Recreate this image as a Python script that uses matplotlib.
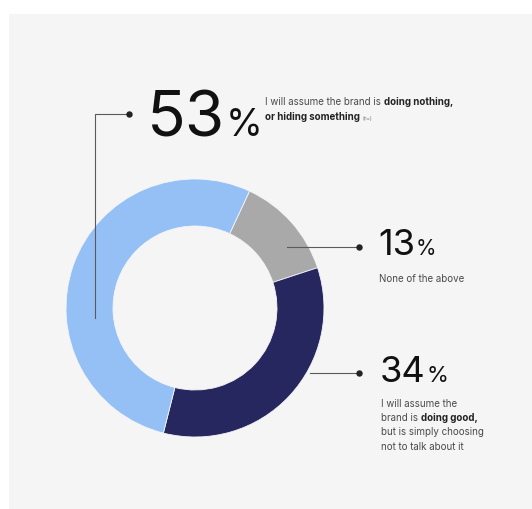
import matplotlib
matplotlib.use("Agg")
import matplotlib.pyplot as plt
from matplotlib.patches import Rectangle

plt.rcParams['font.family'] = ['Inter', 'DejaVu Sans']

W, H = 532, 509

# data
shares = [13, 34, 53]
share_colors = ['#a9a9a9', '#27275f', '#94c0f6']
big_labels = ['13', '34', '53']
desc_13 = [[("None of the above", 'normal')]]
desc_34 = [[("I will assume the", 'normal')],
           [("brand is", 'normal'), ("doing good,", 'bold')],
           [("but is simply choosing", 'normal')],
           [("not to talk about it", 'normal')]]
desc_53 = [[("I will assume the brand is", 'normal'), ("doing nothing,", 'bold')],
           [("or hiding something", 'bold'), ("(n=)", 'small')]]


def Y(y):
    return H - y


fig = plt.figure(figsize=(W / 100, H / 100), dpi=100)
fig.patch.set_facecolor('#f5f5f5')
ax = fig.add_axes([0, 0, 1, 1])
ax.set_facecolor('#f5f5f5')
# white margins at top and left
ax.add_patch(Rectangle((0, H - 14), W, 14, facecolor='white', edgecolor='none', zorder=0))
ax.add_patch(Rectangle((0, 0), 9, H, facecolor='white', edgecolor='none', zorder=0))

ax.pie(shares, colors=share_colors, startangle=65, counterclock=False,
       center=(195, Y(308)), radius=129, frame=True,
       wedgeprops=dict(width=47, edgecolor='#f5f5f5', linewidth=0.6))
ax.set_xlim(0, W)
ax.set_ylim(0, H)
ax.set_aspect('auto')
for s in ax.spines.values():
    s.set_visible(False)
ax.set_xticks([])
ax.set_yticks([])

lc = '#5a5a5a'
# leader lines
ax.plot([95, 95, 129], [Y(318), Y(114), Y(114)], color=lc, lw=0.8)
ax.plot([287, 359], [Y(247), Y(247)], color=lc, lw=0.8)
ax.plot([310, 359], [Y(373), Y(373)], color=lc, lw=0.8)
ax.plot([129, 359, 359], [Y(114), Y(247), Y(373)], 'o', color='#222', ms=3.6)

renderer = fig.canvas.get_renderer()


def big(x, y, num, size, psize):
    t = ax.text(x, Y(y), num, fontsize=size, color='#111', va='baseline', ha='left')
    bb = t.get_window_extent(renderer)
    ax.text(bb.x1 + 0.5, Y(y), '%', fontsize=psize, color='#111', va='baseline', ha='left')


def rich(x, y, lines, step, size=7.0):
    for i, parts in enumerate(lines):
        cx = x
        for txt, kind in parts:
            if kind == 'small':
                t = ax.text(cx, Y(y + i * step), txt, fontsize=3.5, color='#777', va='baseline')
            else:
                t = ax.text(cx, Y(y + i * step), txt, fontsize=size, fontweight=kind,
                            color='#222' if kind == 'bold' else '#4a4a4a', va='baseline')
            cx += t.get_window_extent(renderer).width + 2.8


big(147, 136, big_labels[2], 46, 27)
big(378, 255, big_labels[0], 26, 15)
big(380, 382, big_labels[1], 26, 16)

rich(265, 105, desc_53, 15)
rich(379, 282, desc_13, 14)
rich(381, 407, desc_34, 14.2)

fig.savefig('out.png', dpi=100, facecolor='#f5f5f5')
